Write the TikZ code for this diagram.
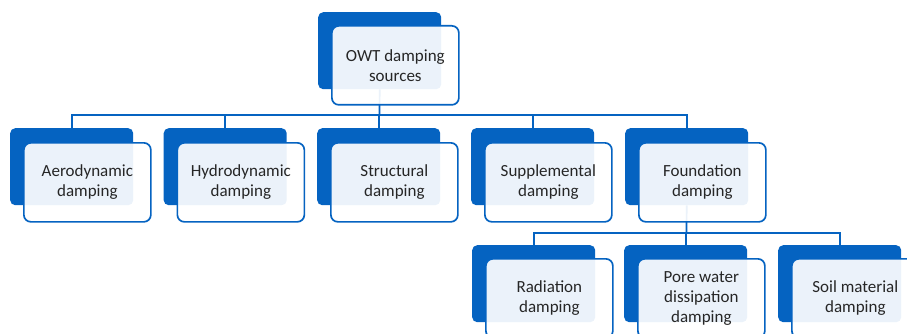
\documentclass[tikz,border=0pt]{standalone}
\usepackage{fontspec}
\setmainfont{Carlito}
\definecolor{owtblue}{HTML}{0563C1}
\definecolor{owttext}{HTML}{262626}
\tikzset{
  backbox/.style={draw=none, fill=owtblue, rounded corners=5pt, minimum width=123pt, minimum height=77pt, inner sep=0pt, anchor=north west},
  frontbox/.style={draw=owtblue, line width=1.7pt, fill=white, fill opacity=0.92, text opacity=1, rounded corners=7pt, minimum width=127pt, minimum height=79pt, inner sep=0pt, anchor=north west, align=center, text=owttext, font=\fontsize{17}{20}\selectfont},
  conn/.style={draw=owtblue, line width=1.7pt}
}
\begin{document}
\begin{tikzpicture}[x=1pt,y=-1pt]
\useasboundingbox (0,0) rectangle (907,334);
\clip (0,0) rectangle (907,334);
% back boxes
\node[backbox] (top-b) at (318,12) {};
\node[backbox] (a-b) at (10,128) {};
\node[backbox] (h-b) at (163.5,128) {};
\node[backbox] (s-b) at (317,128) {};
\node[backbox] (u-b) at (471,128) {};
\node[backbox] (f-b) at (625,128) {};
\node[backbox] (r-b) at (472,245) {};
\node[backbox] (p-b) at (624,245) {};
\node[backbox] (m-b) at (778,245) {};
% connectors
\coordinate (bus1) at (379.5,115);
\coordinate (bus2) at (686.5,233);
\draw[conn] (top-b.south) -- (bus1);
\draw[conn] (bus1) -| (a-b.north);
\draw[conn] (bus1) -| (h-b.north);
\draw[conn] (bus1) -| (s-b.north);
\draw[conn] (bus1) -| (u-b.north);
\draw[conn] (bus1) -| (f-b.north);
\draw[conn] (f-b.south) -- (bus2);
\draw[conn] (bus2) -| (r-b.north);
\draw[conn] (bus2) -| (p-b.north);
\draw[conn] (bus2) -| (m-b.north);
% front boxes
\node[frontbox] (top) at (331,25) {OWT damping\\sources};
\node[frontbox] (a) at (23,142) {Aerodynamic\\damping};
\node[frontbox] (h) at (176.5,142) {Hydrodynamic\\damping};
\node[frontbox] (s) at (330,142) {Structural\\damping};
\node[frontbox] (u) at (484,142) {Supplemental\\damping};
\node[frontbox] (f) at (638,142) {Foundation\\damping};
\node[frontbox] (r) at (485,258) {Radiation\\damping};
\node[frontbox] (p) at (637,258) {Pore water\\dissipation\\damping};
\node[frontbox] (m) at (791,258) {Soil material\\damping};
\end{tikzpicture}
\end{document}
